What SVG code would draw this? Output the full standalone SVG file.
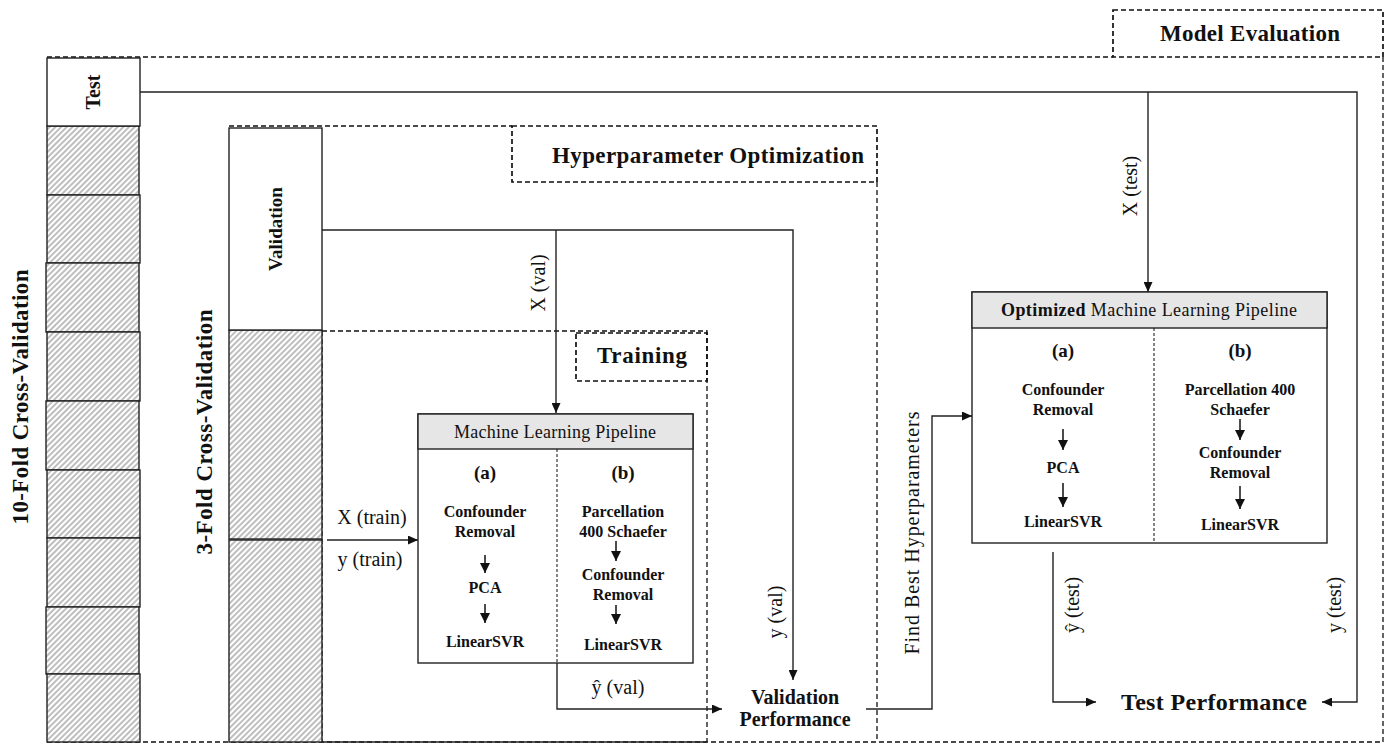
<svg xmlns="http://www.w3.org/2000/svg" width="1393" height="745" viewBox="0 0 1393 745">
<style>
text{font-family:"Liberation Serif","Times New Roman",serif;fill:#111}
.b{font-weight:bold}
.big{font-size:23px;font-weight:bold}
.lbl{font-size:20px}
.step{font-size:16px;font-weight:bold}
.hdr{font-size:18px}
.ab{font-size:19px;font-weight:bold}
.dash{fill:none;stroke:#111;stroke-width:1.3;stroke-dasharray:5 3}
.dashb{fill:none;stroke:#111;stroke-width:1.7;stroke-dasharray:5 3}
.box{fill:#fff;stroke:#222;stroke-width:1.4}
.hatch{fill:url(#hatch);stroke:#222;stroke-width:1.4}
.conn{fill:none;stroke:#222;stroke-width:1.4;marker-end:url(#arr)}
.line{fill:none;stroke:#222;stroke-width:1.4}
.hd{fill:#e6e6e6;stroke:#222;stroke-width:1.4}
.div{stroke:#222;stroke-width:1.1;stroke-dasharray:3 2}
.sa{stroke:#111;stroke-width:1.5;marker-end:url(#sarr)}
</style>
<defs>
<pattern id="hatch" patternUnits="userSpaceOnUse" width="4" height="4" patternTransform="rotate(45)">
<rect width="4" height="4" fill="#fff"/>
<line x1="1" y1="0" x2="1" y2="4" stroke="#a8a8a8" stroke-width="1.5"/>
</pattern>
<marker id="arr" markerUnits="userSpaceOnUse" markerWidth="11" markerHeight="9" refX="10" refY="4.5" orient="auto">
<path d="M0,0 L10,4.5 L0,9 z" fill="#111"/>
</marker>
<marker id="sarr" markerUnits="userSpaceOnUse" markerWidth="11" markerHeight="10" refX="10" refY="5" orient="auto">
<path d="M0,0 L10,5 L0,10 z" fill="#111"/>
</marker>
</defs>
<rect width="1393" height="745" fill="#fff"/>

<!-- Model Evaluation region -->
<g id="model-evaluation">
<path class="dash" d="M47,57 H1113 M1383,57 V742 H47"/>
<rect class="dashb" x="1113" y="10" width="270" height="47"/>
<text class="big" x="1250" y="41" text-anchor="middle" textLength="180">Model Evaluation</text>
</g>

<!-- Hyperparameter Optimization region -->
<g id="hyperparameter-optimization">
<path class="dash" d="M229,126 H512 M877,182 V742"/>
<rect class="dashb" x="512" y="126" width="365" height="56"/>
<text class="big" x="708" y="163" text-anchor="middle" textLength="312">Hyperparameter Optimization</text>
</g>

<!-- Training region -->
<g id="training">
<path class="dash" d="M322,331 H707 V742 M322,331 V742"/>
<path class="line" d="M322,742 H707"/>
<rect class="dashb" x="576" y="333" width="131" height="48"/>
<text class="big" x="642" y="363" text-anchor="middle" textLength="90">Training</text>
</g>

<!-- 10-fold column -->
<g id="ten-fold">
<rect class="hatch" x="47" y="126" width="92" height="69"/>
<rect class="hatch" x="47" y="195" width="93" height="68"/>
<rect class="hatch" x="46" y="263" width="93" height="69"/>
<rect class="hatch" x="47" y="332" width="93" height="69"/>
<rect class="hatch" x="46" y="401" width="93" height="69"/>
<rect class="hatch" x="47" y="470" width="93" height="68"/>
<rect class="hatch" x="47" y="538" width="93" height="69"/>
<rect class="hatch" x="46" y="607" width="93" height="67"/>
<rect class="hatch" x="47" y="674" width="93" height="68"/>
<text class="big" transform="translate(20,397) rotate(-90)" text-anchor="middle" dominant-baseline="central" textLength="255">10-Fold Cross-Validation</text>
</g>
<g id="test">
<rect class="box" x="47" y="58" width="93" height="68"/>
<text class="b" font-size="20" transform="translate(93,92) rotate(-90)" text-anchor="middle" dominant-baseline="central">Test</text>
</g>

<!-- 3-fold column -->
<g id="three-fold">
<rect class="hatch" x="229" y="330" width="93" height="209"/>
<rect class="hatch" x="229" y="540" width="93" height="202"/>
<text class="big" transform="translate(204,432) rotate(-90)" text-anchor="middle" dominant-baseline="central" textLength="245">3-Fold Cross-Validation</text>
</g>
<g id="validation">
<rect class="box" x="229" y="128" width="93" height="202"/>
<text class="b" font-size="19" transform="translate(275,229) rotate(-90)" text-anchor="middle" dominant-baseline="central">Validation</text>
</g>

<!-- Machine Learning Pipeline -->
<g id="ml-pipeline">
<rect class="box" x="418" y="414" width="275" height="249"/>
<rect class="hd" x="418" y="414" width="275" height="35"/>
<text class="hdr" x="555" y="438" text-anchor="middle" textLength="202">Machine Learning Pipeline</text>
<line class="div" x1="557" y1="449" x2="557" y2="663"/>
<text class="ab" x="485" y="479" text-anchor="middle">(a)</text>
<text class="step" x="485" y="517" text-anchor="middle">Confounder</text>
<text class="step" x="485" y="537" text-anchor="middle">Removal</text>
<line class="sa" x1="485" y1="555" x2="485" y2="573"/>
<text class="step" x="485" y="593" text-anchor="middle">PCA</text>
<line class="sa" x1="485" y1="604" x2="485" y2="623"/>
<text class="step" x="485" y="647" text-anchor="middle">LinearSVR</text>
<text class="ab" x="623" y="479" text-anchor="middle">(b)</text>
<text class="step" x="623" y="517" text-anchor="middle">Parcellation</text>
<text class="step" x="623" y="537" text-anchor="middle">400 Schaefer</text>
<line class="sa" x1="616" y1="541" x2="616" y2="561"/>
<text class="step" x="623" y="580" text-anchor="middle">Confounder</text>
<text class="step" x="623" y="600" text-anchor="middle">Removal</text>
<line class="sa" x1="616" y1="605" x2="616" y2="624"/>
<text class="step" x="623" y="650" text-anchor="middle">LinearSVR</text>
</g>

<!-- Optimized Machine Learning Pipeline -->
<g id="optimized-pipeline">
<rect class="box" x="972" y="292" width="355" height="251"/>
<rect class="hd" x="972" y="292" width="355" height="36"/>
<text class="hdr" x="1149" y="316" text-anchor="middle" textLength="296"><tspan font-weight="bold">Optimized</tspan> Machine Learning Pipeline</text>
<line class="div" x1="1154" y1="328" x2="1154" y2="543"/>
<text class="ab" x="1063" y="357" text-anchor="middle">(a)</text>
<text class="step" x="1063" y="395" text-anchor="middle">Confounder</text>
<text class="step" x="1063" y="415" text-anchor="middle">Removal</text>
<line class="sa" x1="1063" y1="429" x2="1063" y2="450"/>
<text class="step" x="1063" y="473" text-anchor="middle">PCA</text>
<line class="sa" x1="1063" y1="483" x2="1063" y2="507"/>
<text class="step" x="1063" y="527" text-anchor="middle">LinearSVR</text>
<text class="ab" x="1240" y="357" text-anchor="middle">(b)</text>
<text class="step" x="1240" y="395" text-anchor="middle">Parcellation 400</text>
<text class="step" x="1240" y="415" text-anchor="middle">Schaefer</text>
<line class="sa" x1="1240" y1="419" x2="1240" y2="440"/>
<text class="step" x="1240" y="458" text-anchor="middle">Confounder</text>
<text class="step" x="1240" y="478" text-anchor="middle">Removal</text>
<line class="sa" x1="1240" y1="486" x2="1240" y2="509"/>
<text class="step" x="1240" y="530" text-anchor="middle">LinearSVR</text>
</g>

<g id="validation-performance">
<text class="b" font-size="20" x="795" y="704" text-anchor="middle">Validation</text>
<text class="b" font-size="20" x="795" y="726" text-anchor="middle">Performance</text>
</g>
<g id="test-performance">
<text class="b" font-size="24" x="1214" y="710" text-anchor="middle" textLength="186">Test Performance</text>
</g>

<!-- Connectors -->
<g id="connectors">
<path class="conn" d="M140,92 H1357 V702 H1322"/>
<path class="conn" d="M1148,92 V292"/>
<path class="conn" d="M322,230 H793 V680"/>
<path class="conn" d="M556,230 V413"/>
<path class="conn" d="M327,540 H418"/>
<path class="conn" d="M557,663 V709 H722"/>
<path class="conn" d="M866,709 H932 V416 H972"/>
<path class="conn" d="M1053,552 V702 H1096"/>
<text class="lbl" x="372" y="524" text-anchor="middle">X (train)</text>
<text class="lbl" x="370" y="566" text-anchor="middle">y (train)</text>
<text class="lbl" x="618" y="694" text-anchor="middle">ŷ (val)</text>
<text class="lbl" transform="translate(538,283) rotate(-90)" text-anchor="middle" dominant-baseline="central">X (val)</text>
<text class="lbl" transform="translate(775,612) rotate(-90)" text-anchor="middle" dominant-baseline="central">y (val)</text>
<text class="lbl" transform="translate(1130,186) rotate(-90)" text-anchor="middle" dominant-baseline="central">X (test)</text>
<text class="lbl" transform="translate(1072,605) rotate(-90)" text-anchor="middle" dominant-baseline="central">ŷ (test)</text>
<text class="lbl" transform="translate(1334,605) rotate(-90)" text-anchor="middle" dominant-baseline="central">y (test)</text>
<text class="lbl" transform="translate(912,533) rotate(-90)" text-anchor="middle" dominant-baseline="central" textLength="243">Find Best Hyperparameters</text>
</g>
</svg>
